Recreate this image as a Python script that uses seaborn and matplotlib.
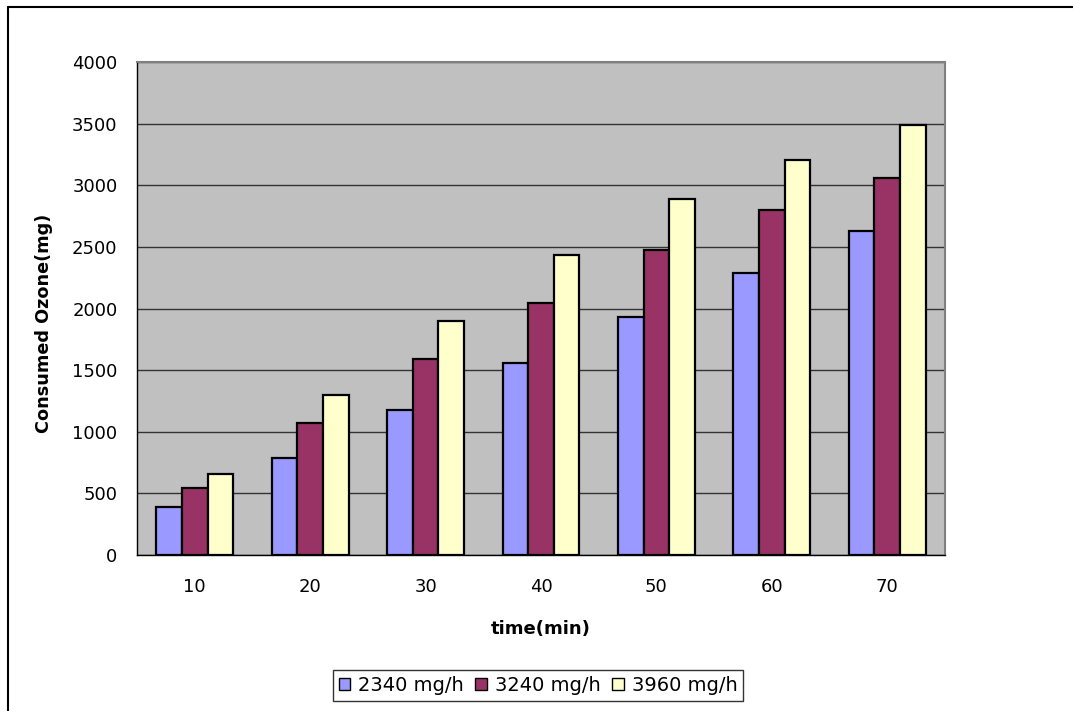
import matplotlib
matplotlib.use("Agg")
import matplotlib.pyplot as plt
import seaborn as sns
import pandas as pd
from matplotlib.lines import Line2D

times = ["10", "20", "30", "40", "50", "60", "70"]
series_names = ["2340 mg/h", "3240 mg/h", "3960 mg/h"]
vals_2340 = [389, 787, 1176, 1558, 1931, 2288, 2629]
vals_3240 = [544, 1071, 1590, 2045, 2475, 2799, 3059]
vals_3960 = [657, 1298, 1899, 2434, 2888, 3205, 3489]
colors = ["#9999FF", "#993366", "#FFFFCC"]

rows = []
for name, vals in zip(series_names, [vals_2340, vals_3240, vals_3960]):
    for t, v in zip(times, vals):
        rows.append({"time": t, "series": name, "value": v})
df = pd.DataFrame(rows)

sns.set_style("white")
plt.rcParams['font.family'] = ['DejaVu Sans']
plt.rcParams['text.color'] = 'black'
plt.rcParams['axes.labelcolor'] = 'black'
plt.rcParams['xtick.color'] = 'black'
plt.rcParams['ytick.color'] = 'black'

fig = plt.figure(figsize=(10.73, 7.11), dpi=100)
ax = fig.add_axes([137/1073, 1-555/711, (945-137)/1073, (555-62)/711])
ax.set_facecolor("#C0C0C0")

sns.barplot(data=df, x="time", y="value", hue="series", order=times,
            hue_order=series_names, palette=colors, saturation=1, width=0.667,
            edgecolor="black", linewidth=1.6, ax=ax, legend=True)

ax.set_ylim(0, 4000)
ax.set_xlim(-0.5, 6.5)
ax.set_yticks(range(0, 4001, 500))
ax.yaxis.grid(True, color="#333333", linewidth=1.0)
ax.set_axisbelow(True)

ax.set_xticks(range(len(times)))
ax.set_xticklabels(times, fontsize=13, color="black")
ax.set_xticks([i - 0.5 for i in range(len(times) + 1)], minor=True)
ax.tick_params(axis="x", which="major", length=0, pad=16.5, labelcolor="black")
ax.tick_params(axis="x", which="minor", length=6, width=1, color="black", direction="out")
ax.tick_params(axis="y", length=7, width=1, color="black", direction="out", labelsize=13, pad=7,
               labelcolor="black")

for s in ["left", "bottom"]:
    ax.spines[s].set_color("black")
    ax.spines[s].set_linewidth(1.0)
for s in ["top", "right"]:
    ax.spines[s].set_color("#808080")
    ax.spines[s].set_linewidth(1.5)

ax.set_xlabel("time(min)", fontsize=13, fontweight="bold", labelpad=17, color="black")
ax.set_ylabel("Consumed Ozone(mg)", fontsize=12.7, fontweight="bold", color="black")
ax.yaxis.set_label_coords((53 - 137) / 808, (555 - 323) / 493)

if ax.get_legend() is not None:
    ax.get_legend().remove()
handles = [plt.Rectangle((0, 0), 1, 1, facecolor=c, edgecolor="black", linewidth=1.0) for c in colors]
leg = fig.legend(handles, series_names, loc="center", bbox_to_anchor=(538/1073, 1-685.5/711),
                 ncol=3, fontsize=14, frameon=True, fancybox=False, edgecolor="black",
                 handlelength=0.6, handleheight=0.6, handletextpad=0.4, columnspacing=0.6,
                 borderpad=0.3, borderaxespad=0)
leg.get_frame().set_linewidth(1.0)
for t in leg.get_texts():
    t.set_color("black")

# outer chart border
fig.add_artist(Line2D([8/1073, 8/1073], [0, 1-7/711], color="black", linewidth=1.5, transform=fig.transFigure))
fig.add_artist(Line2D([8/1073, 1], [1-7/711, 1-7/711], color="black", linewidth=1.5, transform=fig.transFigure))

fig.savefig("out.png", dpi=100)
